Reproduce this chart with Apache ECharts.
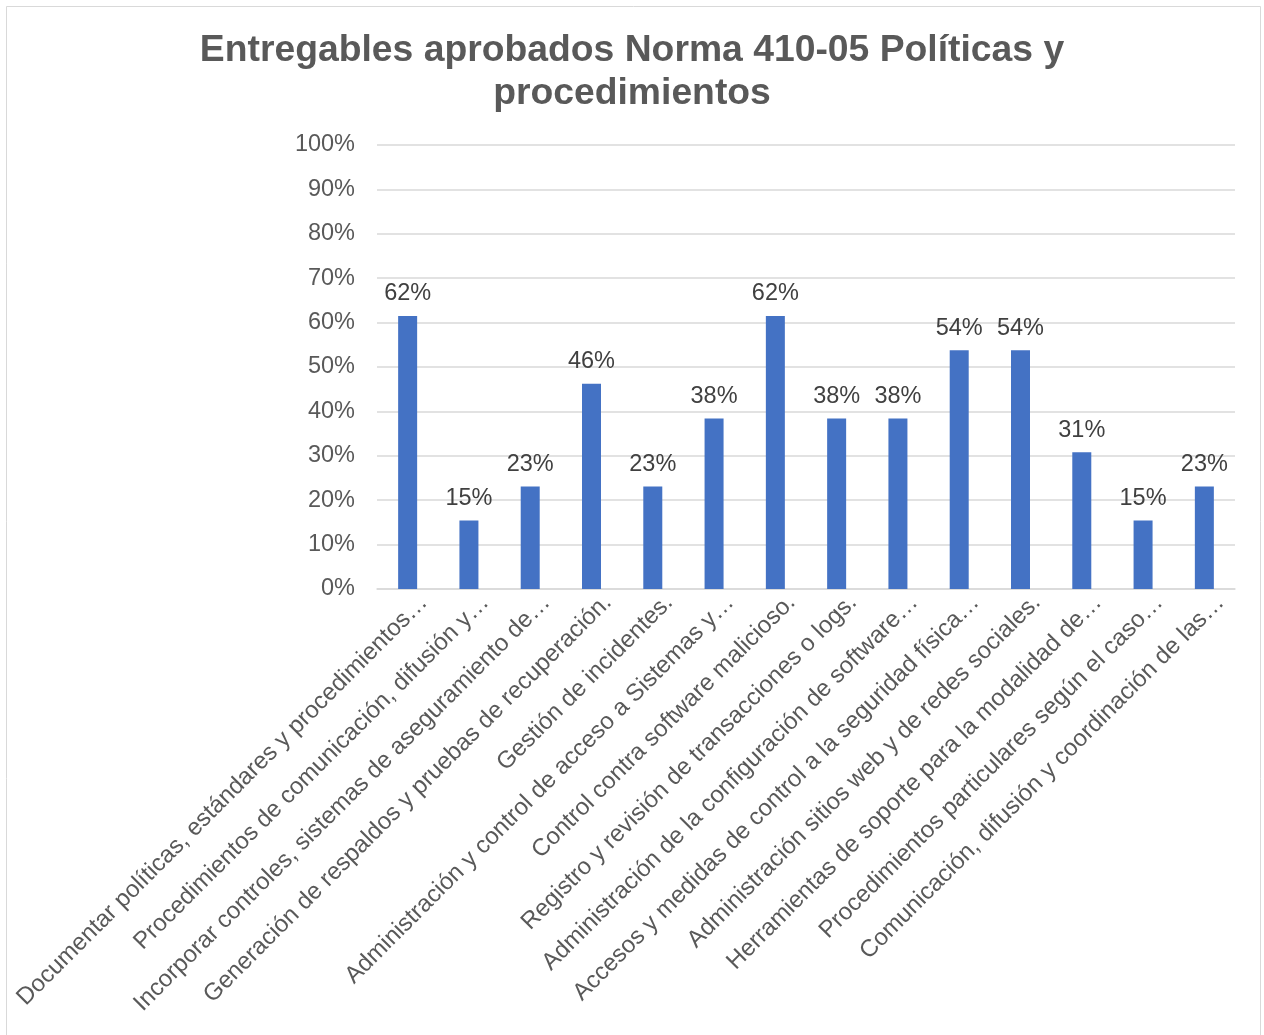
<!DOCTYPE html>
<html>
<head>
<meta charset="utf-8">
<script src="https://cdn.jsdelivr.net/npm/echarts@6/dist/echarts.min.js"></script>
<style>
html,body{margin:0;padding:0;background:#fff;}
#chart{width:1264px;height:1035px;}
</style>
</head>
<body>
<div id="chart"></div>
<script>
const titleText = "Entregables aprobados Norma 410-05 Políticas y\nprocedimientos";
const categories = [
  "Documentar políticas, estándares y procedimientos…",
  "Procedimientos de comunicación, difusión y…",
  "Incorporar controles, sistemas de aseguramiento de…",
  "Generación de respaldos y pruebas de recuperación.",
  "Gestión de incidentes.",
  "Administración y control de acceso a Sistemas y…",
  "Control contra software malicioso.",
  "Registro y revisión de transacciones o logs.",
  "Administración de la configuración de software…",
  "Accesos y medidas de control a la seguridad física…",
  "Administración sitios web y de redes sociales.",
  "Herramientas de soporte para la modalidad de…",
  "Procedimientos particulares según el caso…",
  "Comunicación, difusión y coordinación de las…"
];
const values = [61.5, 15.4, 23.1, 46.2, 23.1, 38.4, 61.5, 38.4, 38.4, 53.8, 53.8, 30.8, 15.4, 23.1];
const yTicks = [0, 10, 20, 30, 40, 50, 60, 70, 80, 90, 100];

const chart = echarts.init(document.getElementById('chart'), null, {renderer: 'canvas'});
const FONT = 'Arial, "Liberation Sans", sans-serif';
chart.setOption({
  animation: false,
  backgroundColor: '#fff',
  graphic: [{
    type: 'rect',
    shape: {x: 6.5, y: 6.5, width: 1254, height: 1040},
    style: {fill: 'none', stroke: '#d9d9d9', lineWidth: 1},
    silent: true
  }],
  title: {
    text: titleText,
    left: 'center',
    top: 24,
    textStyle: {
      fontFamily: FONT,
      fontSize: 37.3,
      fontWeight: 'bold',
      color: '#595959',
      lineHeight: 43
    }
  },
  grid: {left: 377, right: 29, top: 145, bottom: 446, containLabel: false},
  xAxis: {
    type: 'category',
    data: categories,
    axisLine: {show: true, lineStyle: {color: '#d9d9d9', width: 1.5}},
    axisTick: {show: false},
    axisLabel: {
      interval: 0,
      rotate: 45,
      align: 'right',
      verticalAlign: 'top',
      margin: 2,
      padding: [5, -6, 0, 0],
      fontFamily: FONT,
      fontSize: 24,
      color: '#595959'
    }
  },
  yAxis: {
    type: 'value',
    min: yTicks[0],
    max: yTicks[yTicks.length - 1],
    interval: 10,
    axisLine: {show: false},
    axisTick: {show: false},
    splitLine: {lineStyle: {color: '#d9d9d9', width: 1.5}},
    axisLabel: {
      margin: 22,
      padding: [3, 0, 0, 0],
      fontFamily: FONT,
      fontSize: 23.5,
      color: '#595959',
      formatter: v => v + '%'
    }
  },
  series: [{
    type: 'bar',
    data: values,
    barWidth: 19,
    itemStyle: {color: '#4472C4'},
    label: {
      show: true,
      position: 'top',
      distance: 10,
      fontFamily: FONT,
      fontSize: 23.5,
      color: '#404040',
      formatter: p => Math.round(p.value) + '%'
    }
  }]
});
</script>
</body>
</html>
